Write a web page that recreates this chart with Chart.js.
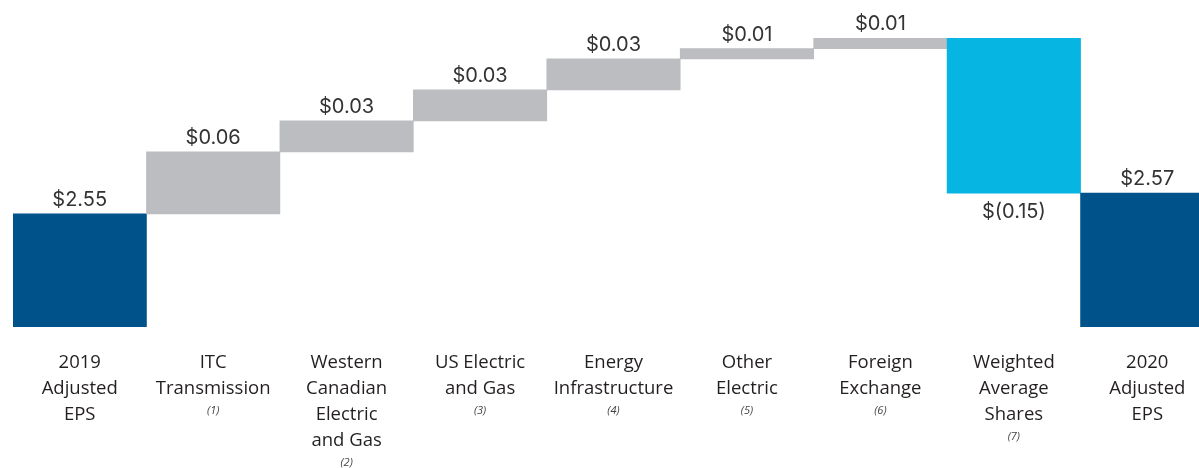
<!DOCTYPE html>
<html lang="en">
<head>
    <meta charset="UTF-8">
    <title>2019 to 2020 Adjusted EPS</title>
    <script src="https://cdn.jsdelivr.net/npm/chart.js"></script>
    <style>
        html, body { margin: 0; padding: 0; background: #fff; overflow: hidden; }
        .chart-container { width: 1214px; height: 468px; }
    </style>
</head>
<body>
    <div class="chart-container">
        <canvas id="epsChart"></canvas>
    </div>

    <script>
        // categories (lines of each x label) and their footnote marks
        const categories = [
            ['2019', 'Adjusted', 'EPS'],
            ['ITC', 'Transmission'],
            ['Western', 'Canadian', 'Electric', 'and Gas'],
            ['US Electric', 'and Gas'],
            ['Energy', 'Infrastructure'],
            ['Other', 'Electric'],
            ['Foreign', 'Exchange'],
            ['Weighted', 'Average', 'Shares'],
            ['2020', 'Adjusted', 'EPS']
        ];
        const footnotes = ['', '(1)', '(2)', '(3)', '(4)', '(5)', '(6)', '(7)', ''];

        // totals are full bars, the rest are changes
        const isTotal = [true, false, false, false, false, false, false, false, true];
        const values = [2.55, 0.06, 0.03, 0.03, 0.03, 0.01, 0.01, -0.15, 2.57];
        const valueLabels = ['$2.55', '$0.06', '$0.03', '$0.03', '$0.03', '$0.01', '$0.01', '$(0.15)', '$2.57'];

        const axisMin = 2.4405;
        const axisMax = 2.757;

        // build floating ranges for the waterfall
        let running = 0;
        const ranges = values.map((v, i) => {
            if (isTotal[i]) {
                running = v;
                return [axisMin, v];
            }
            const start = running;
            running = +(running + v).toFixed(4);
            return [start, running];
        });
        const colors = values.map((v, i) => isTotal[i] ? '#00528a' : (v < 0 ? '#06b5e2' : '#bcbdc0'));

        const labelPlugin = {
            id: 'labelPlugin',
            afterDraw(chart) {
                const ctx = chart.ctx;
                const meta = chart.getDatasetMeta(0);
                const xScale = chart.scales.x;
                ctx.save();
                ctx.textAlign = 'center';

                // value labels
                ctx.font = '20px Inter';
                ctx.fillStyle = '#333333';
                meta.data.forEach((bar, i) => {
                    const top = Math.min(bar.y, bar.base);
                    const bottom = Math.max(bar.y, bar.base);
                    if (values[i] < 0) {
                        ctx.textBaseline = 'top';
                        ctx.fillText(valueLabels[i], bar.x, bottom + 9);
                    } else {
                        ctx.textBaseline = 'bottom';
                        ctx.fillText(valueLabels[i], bar.x, top - 4);
                    }
                });

                // category labels
                ctx.textBaseline = 'middle';
                categories.forEach((lines, i) => {
                    const x = xScale.getPixelForValue(i);
                    ctx.font = '18.5px "Open Sans"';
                    ctx.fillStyle = '#231f20';
                    lines.forEach((line, j) => {
                        ctx.fillText(line, x, 363 + j * 26);
                    });
                    if (footnotes[i]) {
                        ctx.font = 'italic 11px "Open Sans"';
                        ctx.fillStyle = '#444444';
                        ctx.fillText(footnotes[i], x, 363 + (lines.length - 1) * 26 + 22);
                    }
                });
                ctx.restore();
            }
        };

        new Chart(document.getElementById('epsChart'), {
            type: 'bar',
            data: {
                labels: categories.map(c => c.join(' ')),
                datasets: [{
                    data: ranges,
                    backgroundColor: colors,
                    borderWidth: 0,
                    barPercentage: 1,
                    categoryPercentage: 1
                }]
            },
            options: {
                responsive: true,
                maintainAspectRatio: false,
                animation: false,
                layout: {
                    padding: { left: 13, right: 0, top: 0, bottom: 141 }
                },
                plugins: {
                    legend: { display: false },
                    tooltip: { enabled: false }
                },
                scales: {
                    x: { display: false },
                    y: { display: false, min: axisMin, max: axisMax }
                }
            },
            plugins: [labelPlugin]
        });
    </script>
</body>
</html>
